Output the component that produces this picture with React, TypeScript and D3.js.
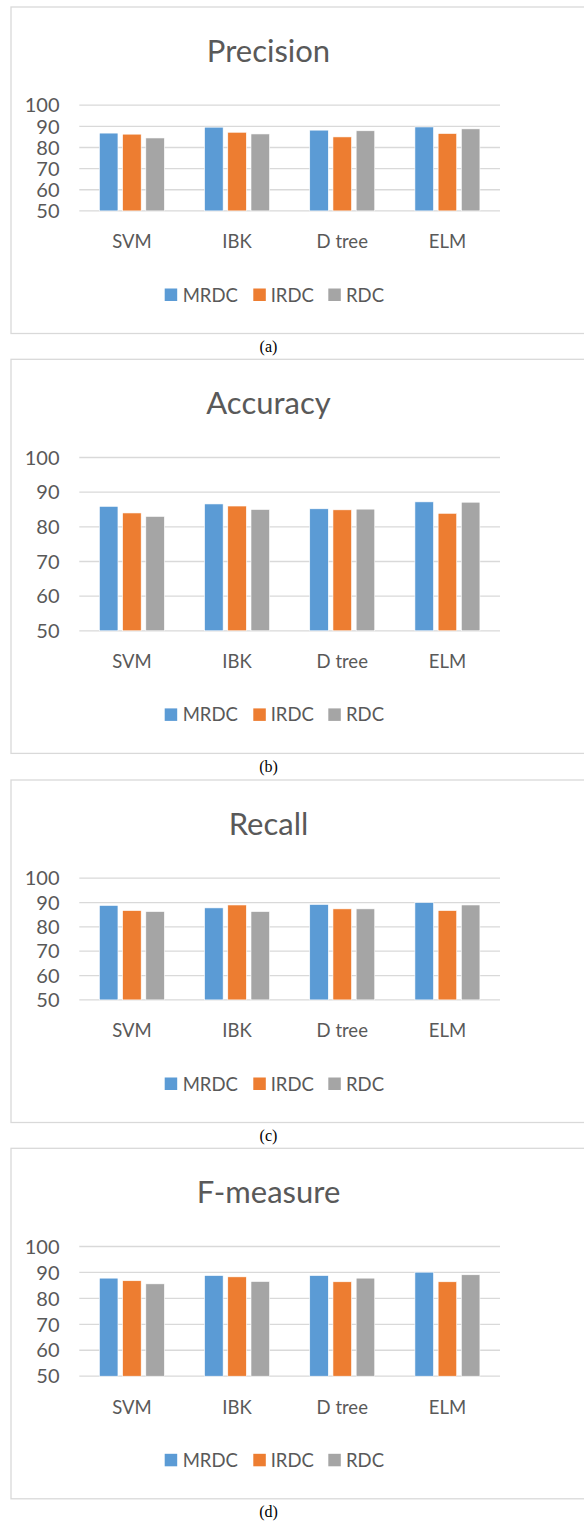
import React from "react";
import * as d3 from "d3";

const categories = ["SVM", "IBK", "D tree", "ELM"];
const seriesNames = ["MRDC", "IRDC", "RDC"];
const yTicks = [50, 60, 70, 80, 90, 100];

const precisionMRDC = [86.8, 89.6, 88.2, 89.7];
const precisionIRDC = [86.3, 87.2, 85.0, 86.6];
const precisionRDC = [84.5, 86.4, 87.9, 88.8];

const accuracyMRDC = [85.9, 86.6, 85.2, 87.2];
const accuracyIRDC = [84.0, 86.0, 84.9, 83.9];
const accuracyRDC = [83.0, 85.0, 85.1, 87.1];

const recallMRDC = [88.8, 87.8, 89.2, 90.0];
const recallIRDC = [86.7, 89.0, 87.4, 86.7];
const recallRDC = [86.3, 86.3, 87.4, 89.0];

const fmeasureMRDC = [87.8, 88.8, 88.8, 90.1];
const fmeasureIRDC = [86.8, 88.3, 86.4, 86.4];
const fmeasureRDC = [85.6, 86.5, 87.8, 89.1];

const titles = ["Precision", "Accuracy", "Recall", "F-measure"];
const captions = ["(a)", "(b)", "(c)", "(d)"];

const COLORS = ["#5B9BD5", "#ED7D31", "#A5A5A5"];
const TEXT = "#595959";
const GRID = "#D9D9D9";
const FONT = "Lato, 'Open Sans', sans-serif";

// layout: panel top and plot height (value 100 -> 50)
const layouts = [
  { top: 7, plotH: 105.7 },
  { top: 359.3, plotH: 173.3 },
  { top: 780, plotH: 121.7 },
  { top: 1148.3, plotH: 129.7 },
];

const panelData = [
  [precisionMRDC, precisionIRDC, precisionRDC],
  [accuracyMRDC, accuracyIRDC, accuracyRDC],
  [recallMRDC, recallIRDC, recallRDC],
  [fmeasureMRDC, fmeasureIRDC, fmeasureRDC],
];

const X0 = 79.3;
const X1 = 500;
const CX = 268.5;

function Panel({ idx }: { idx: number }) {
  const { top, plotH } = layouts[idx];
  const gridTop = top + 98.2;
  const gridBottom = gridTop + plotH;
  const y = d3.scaleLinear().domain([50, 100]).range([gridBottom, gridTop]);
  const x = d3.scaleBand<string>().domain(categories).range([X0, X1]).padding(0);
  const step = x.step();
  const groupW = 65;
  const xs = d3
    .scaleBand<string>()
    .domain(seriesNames)
    .range([(step - groupW) / 2, (step + groupW) / 2])
    .paddingInner(0.2);
  const boxBottom = gridBottom + 122.6;
  const legendY = gridBottom + 84;
  const legendItems = [
    { name: "MRDC", sx: 164.7, tx: 182.7 },
    { name: "IRDC", sx: 253.3, tx: 270.7 },
    { name: "RDC", sx: 328.3, tx: 346 },
  ];
  const data = panelData[idx];
  return (
    <g>
      <rect x={11} y={top} width={600} height={boxBottom - top} fill="#fff" stroke={GRID} strokeWidth={1.3} />
      <text x={CX} y={top + 55} textAnchor="middle" fontFamily={FONT} fontSize={31} fill={TEXT}>
        {titles[idx]}
      </text>
      {yTicks.map((t) => (
        <g key={t}>
          <line x1={X0} x2={X1} y1={y(t)} y2={y(t)} stroke={GRID} strokeWidth={1.3} />
          <text x={59.5} y={y(t)} dy="0.36em" textAnchor="end" fontFamily={FONT} fontSize={20} fill={TEXT}>
            {t}
          </text>
        </g>
      ))}
      {categories.map((c, ci) => (
        <g key={c} transform={`translate(${x(c)},0)`}>
          {seriesNames.map((s, si) => {
            const v = data[si][ci];
            return (
              <rect
                key={s}
                x={xs(s)}
                y={y(v)}
                width={xs.bandwidth()}
                height={y(50) - y(v)}
                fill={COLORS[si]}
                stroke="#fff"
                strokeWidth={0.6}
              />
            );
          })}
          <text
            x={step / 2}
            y={gridBottom + 37.5}
            textAnchor="middle"
            fontFamily={FONT}
            fontSize={18.5}
            fill={TEXT}
          >
            {c}
          </text>
        </g>
      ))}
      {legendItems.map((l, li) => (
        <g key={l.name}>
          <rect x={l.sx} y={legendY - 6.4} width={12.5} height={12.5} fill={COLORS[li]} />
          <text x={l.tx} y={legendY} dy="0.36em" fontFamily={FONT} fontSize={18.5} fill={TEXT}>
            {seriesNames[li]}
          </text>
        </g>
      ))}
      <text
        x={CX}
        y={boxBottom + 18.5}
        textAnchor="middle"
        fontFamily="'Liberation Serif', 'DejaVu Serif', serif"
        fontSize={16}
        fill="#000"
      >
        {captions[idx]}
      </text>
    </g>
  );
}

export default function App() {
  return (
    <svg
      width={584}
      height={1522}
      style={{ position: "absolute", left: 0, top: 0, display: "block", background: "#fff" }}
    >
      <rect x={0} y={0} width={584} height={1522} fill="#fff" />
      {titles.map((_, i) => (
        <Panel key={i} idx={i} />
      ))}
    </svg>
  );
}
